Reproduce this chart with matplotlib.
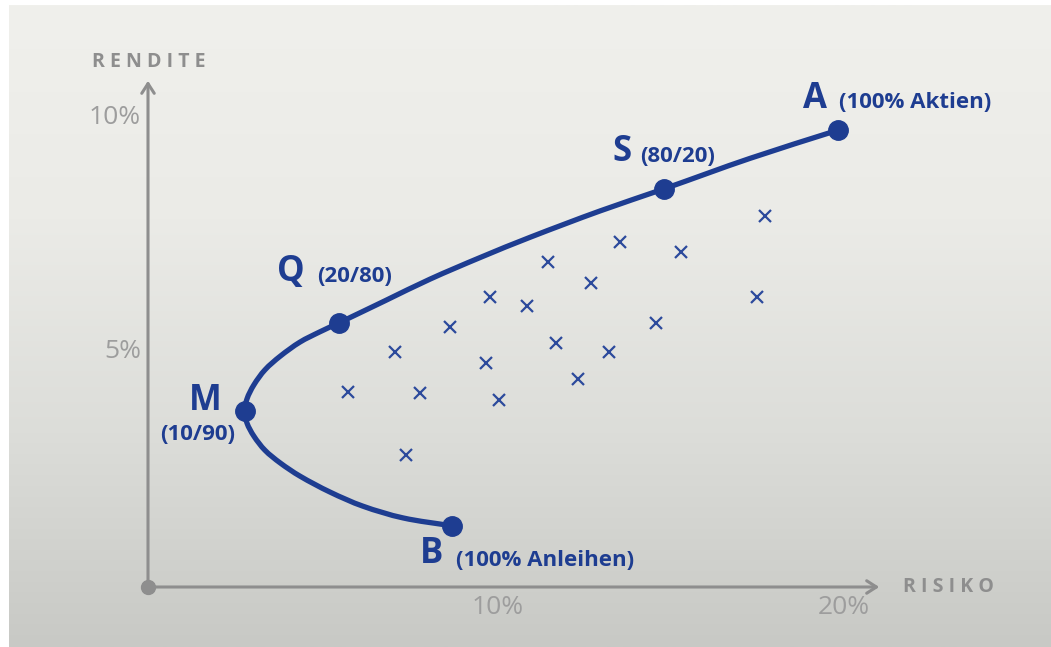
import numpy as np
import matplotlib.pyplot as plt
from matplotlib.colors import LinearSegmentedColormap
from matplotlib.path import Path
from matplotlib.patches import PathPatch

plt.rcParams['font.family'] = ['Open Sans', 'DejaVu Sans']

# efficient frontier (risk %, return %), from B up to A
curve_risk = [8.79, 7.37, 6.21, 5.26, 4.39, 3.82, 3.38, 3.06, 2.86, 2.80, 2.86, 3.06, 3.38,
              3.82, 4.39, 4.97, 5.52, 6.85, 8.15, 9.60, 11.04, 13.06, 14.91, 17.40, 19.94]
curve_ret = [1.30, 1.47, 1.72, 2.02, 2.36, 2.64, 2.91, 3.21, 3.49, 3.74, 4.00, 4.30, 4.62,
             4.91, 5.21, 5.43, 5.62, 6.09, 6.55, 7.01, 7.44, 8.00, 8.47, 9.12, 9.72]

# named portfolios on the frontier
point_names = ['A', 'S', 'Q', 'M', 'B']
point_notes = ['(100% Aktien)', '(80/20)', '(20/80)', '(10/90)', '(100% Anleihen)']
point_risk = [19.94, 14.91, 5.52, 2.80, 8.79]
point_ret = [9.72, 8.47, 5.62, 3.74, 1.30]

# single portfolios (crosses)
cross_risk = [5.78, 7.14, 7.46, 7.86, 8.73, 9.77, 9.88, 10.14, 10.95, 11.56,
              11.79, 12.43, 12.80, 13.32, 13.64, 14.68, 15.40, 17.60, 17.83]
cross_ret = [4.15, 5.00, 2.81, 4.13, 5.53, 4.77, 6.17, 3.98, 5.98, 6.91,
             5.19, 4.43, 6.47, 5.00, 7.34, 5.62, 7.13, 6.17, 7.89]

x_ticks = [10, 20]
y_ticks = [5, 10]

W, H = 1051, 647
SX, SY = 34.6, 47.0  # pixels per percent
blue = '#1e3d91'
grey = '#8e8e8e'


def P(px, py):
    # pixel position -> data coordinates
    return (px - 148) / SX, (587 - py) / SY


def smooth_path(xs, ys):
    # smooth cubic Bezier through the points (tangents by chord length, in screen scale)
    s = np.array([SX, SY])
    pts = np.column_stack([xs, ys]).astype(float) * s
    n = len(pts)
    d = np.linalg.norm(np.diff(pts, axis=0), axis=1)
    tang = np.zeros_like(pts)
    for i in range(n):
        if i == 0:
            tang[i] = (pts[1] - pts[0]) / d[0]
        elif i == n - 1:
            tang[i] = (pts[-1] - pts[-2]) / d[-1]
        else:
            tang[i] = (pts[i + 1] - pts[i - 1]) / (d[i - 1] + d[i])
    verts = [pts[0]]
    codes = [Path.MOVETO]
    for i in range(n - 1):
        verts += [pts[i] + tang[i] * d[i] / 3, pts[i + 1] - tang[i + 1] * d[i] / 3, pts[i + 1]]
        codes += [Path.CURVE4] * 3
    return Path(np.array(verts) / s, codes)


fig = plt.figure(figsize=(W / 100, H / 100), dpi=100)
fig.patch.set_facecolor('white')

# gradient background panel
bg = fig.add_axes([9 / W, 0, 1 - 9 / W, 642 / H])
bg.axis('off')
cmap = LinearSegmentedColormap.from_list('bg', ['#f0f0ec', '#ebebe7', '#dcddd9', '#c8c9c5'])
grad = np.linspace(0, 1, 256).reshape(-1, 1)
bg.imshow(grad, aspect='auto', cmap=cmap, extent=[0, 1, 0, 1], origin='upper')

ax = fig.add_axes([0, 0, 1, 1])
ax.set_xlim(P(0, 0)[0], P(W, 0)[0])
ax.set_ylim(P(0, H)[1], P(0, 0)[1])
ax.axis('off')
ax.patch.set_alpha(0)

# axes with arrows
xe = P(882, 0)[0]
ye = P(0, 78)[1]
ax.annotate('', xy=(xe, 0), xytext=(0, 0),
            arrowprops=dict(arrowstyle='->,head_length=0.7,head_width=0.45', color=grey, lw=2.2))
ax.annotate('', xy=(0, ye), xytext=(0, 0),
            arrowprops=dict(arrowstyle='->,head_length=0.7,head_width=0.45', color=grey, lw=2.2))
ax.plot([0], [0], 'o', color=grey, markersize=10, zorder=3)

for t in x_ticks:
    ax.text(t + 0.1, P(0, 608)[1], f'{t}%', ha='center', va='center', fontsize=19, color='#9d9d9d')
for t in y_ticks:
    ax.text(P(141, 0)[0], t, f'{t}%', ha='right', va='center', fontsize=19, color='#9d9d9d')

ax.text(*P(149, 62), 'R E N D I T E', ha='center', va='center', fontsize=14,
        fontweight='bold', color=grey)
ax.text(*P(948, 587), 'R I S I K O', ha='center', va='center', fontsize=14,
        fontweight='bold', color=grey)

# frontier
ax.add_patch(PathPatch(smooth_path(curve_risk, curve_ret), facecolor='none', edgecolor=blue,
                       lw=3.8, capstyle='round', joinstyle='round', zorder=4))
ax.plot(point_risk, point_ret, 'o', color=blue, markersize=14, zorder=5)

# crosses
ax.plot(cross_risk, cross_ret, 'x', color='#2c4a9c', markersize=8, mew=1.6, zorder=4)

# labels
big = dict(fontsize=25, fontweight='bold', color=blue, va='center')
small = dict(fontsize=16, fontweight='bold', color=blue, va='center')
name_pos = {'A': (815, 99), 'S': (622, 152), 'Q': (291, 272), 'M': (205, 401), 'B': (432, 554)}
note_pos = {'A': (839, 103), 'S': (640, 157), 'Q': (317, 276), 'B': (456, 561)}
for name, note in zip(point_names, point_notes):
    ax.text(*P(*name_pos[name]), name, ha='center', **big)
    if name == 'M':
        ax.text(*P(198, 435), note, ha='center', **small)
    else:
        ax.text(*P(*note_pos[name]), note, ha='left', **small)

fig.savefig('out.png', dpi=100)
